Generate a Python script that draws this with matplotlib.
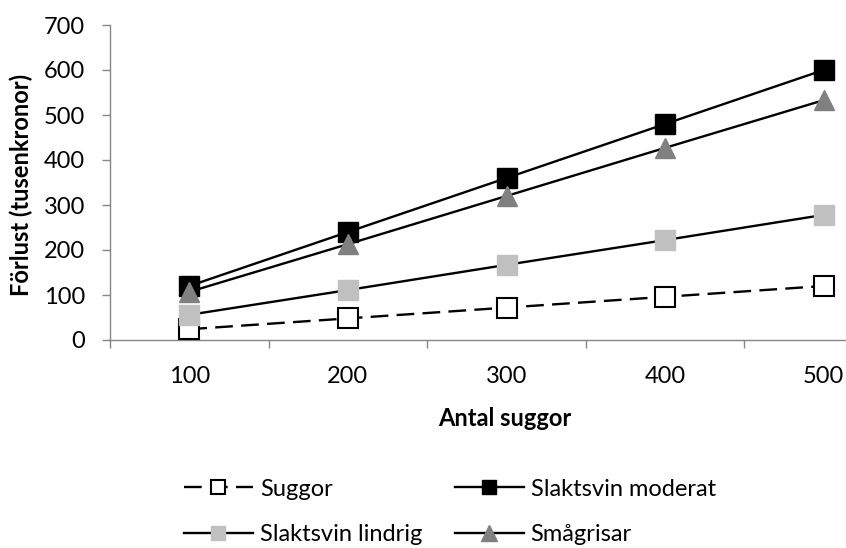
import matplotlib
matplotlib.use("Agg")
import matplotlib.pyplot as plt
import numpy as np

plt.rcParams['font.family'] = ['Lato', 'DejaVu Sans']

categories = ["100", "200", "300", "400", "500"]
suggor = [24, 48, 72, 96, 120]
slaktsvin_moderat = [120, 240, 360, 480, 600]
slaktsvin_lindrig = [56, 111, 167, 222, 278]
smagrisar = [107, 213, 320, 427, 533]
y_ticks = [0, 100, 200, 300, 400, 500, 600, 700]

fig = plt.figure(figsize=(8.46, 5.48), dpi=100)
# plot area: x from 110px to ~903px (cropped by figure edge), y from 25px to 340px
L, R, T, B = 110, 903, 25, 340
ax = fig.add_axes([L/846, 1-B/548, (R-L)/846, (B-T)/548])

x = np.arange(1, len(categories)+1)
axc = '#868686'
lw = 1.7
h_sug, = ax.plot(x, suggor, color='black', lw=lw, ls=(0, (7.5, 3.5)), marker='s', ms=14,
                 mfc='white', mec='black', mew=1.5, label='Suggor', clip_on=False, zorder=3)
h_mod, = ax.plot(x, slaktsvin_moderat, color='black', lw=lw, marker='s', ms=14,
                 mfc='black', mec='black', label='Slaktsvin moderat', clip_on=False, zorder=3)
h_lin, = ax.plot(x, slaktsvin_lindrig, color='black', lw=lw, marker='s', ms=14,
                 mfc='#C0C0C0', mec='#C0C0C0', label='Slaktsvin lindrig', clip_on=False, zorder=3)
h_sma, = ax.plot(x, smagrisar, color='black', lw=lw, marker='^', ms=15,
                 mfc='#808080', mec='#808080', label='Smågrisar', clip_on=False, zorder=3)

fs = 17
ax.set_xlim(0.5, 5.5)
ax.set_ylim(0, 700)
ax.set_yticks(y_ticks)
ax.set_xticks(x)
ax.set_xticklabels(categories)
ax.set_xticks(np.arange(0.5, 6.0, 1.0), minor=True)
ax.tick_params(axis='x', which='major', length=0, pad=19, labelsize=fs, colors='black')
ax.tick_params(axis='x', which='minor', length=6, width=1, color=axc, direction='out')
ax.tick_params(axis='y', length=6, width=1, color=axc, direction='out', pad=12, labelsize=fs)
for s in ['top', 'right']:
    ax.spines[s].set_visible(False)
for s in ['left', 'bottom']:
    ax.spines[s].set_color(axc)
    ax.spines[s].set_linewidth(1)

ax.set_xlabel('Antal suggor', fontsize=fs, fontweight='bold')
ax.xaxis.set_label_coords((505-L)/(R-L), -(407-B)/(B-T))
ax.set_ylabel('Förlust (tusenkronor)', fontsize=fs, fontweight='bold')
ax.yaxis.set_label_coords(-(L-33)/(R-L), (B-185)/(B-T))

fig.legend(handles=[h_sug, h_lin, h_mod, h_sma], ncol=2, frameon=False,
           loc='center', bbox_to_anchor=(450/846, 1-512/548), fontsize=fs,
           handlelength=2.9, columnspacing=1.4, labelspacing=1.05, handletextpad=0.3,
           markerscale=0.75, borderpad=0)

fig.savefig('out.png', dpi=100)
